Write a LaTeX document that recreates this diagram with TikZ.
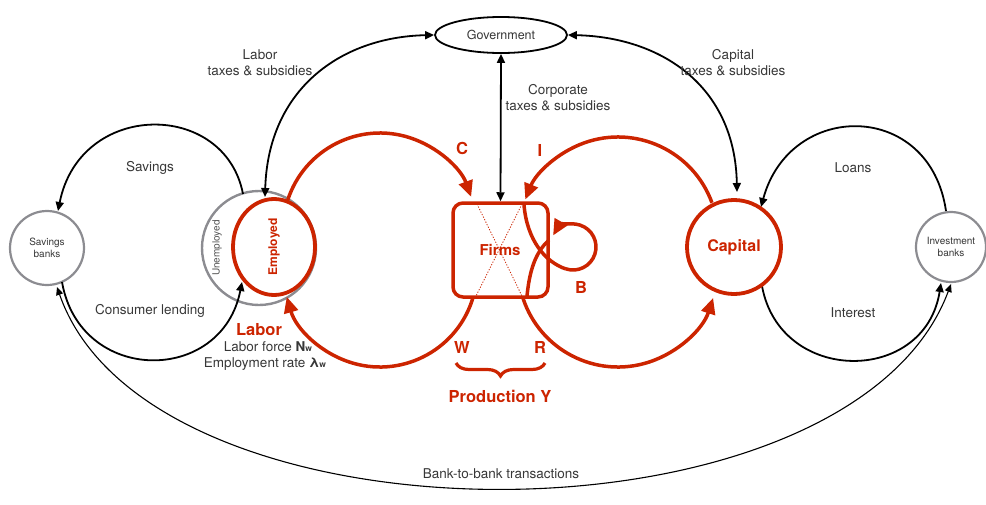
\documentclass[tikz,border=0pt]{standalone}
\usepackage{fontspec}
\setmainfont{TeX Gyre Heros}
\usetikzlibrary{arrows.meta,decorations.pathreplacing,shapes.geometric}
\definecolor{myred}{RGB}{204,36,0}
\definecolor{mygray}{RGB}{140,140,145}
\definecolor{txt}{RGB}{55,55,55}
\begin{document}
\begin{tikzpicture}[x=1pt,y=-1pt,
  lbl/.style={text=txt,font=\fontsize{13.5}{16}\selectfont,align=center,inner sep=0pt},
  rlbl/.style={text=myred,font=\fontsize{16.5}{18}\selectfont\bfseries,inner sep=0pt},
  blk/.style={line width=1.8pt,black},
  blkarr/.style={-{Triangle[length=9pt,width=8pt]}},
  dblarr/.style={{Triangle[length=9pt,width=8pt]}-{Triangle[length=9pt,width=8pt]}},
  redln/.style={line width=3.5pt,myred},
  redarr/.style={-{Triangle[length=16pt,width=14pt]}},
  bank/.style={draw=mygray,line width=2.2pt,circle,fill=white,font=\fontsize{10}{11.5}\selectfont,align=center,text=txt},
]
\useasboundingbox (0,0) rectangle (986,504);

% ---------- grey unemployed circle
\draw[mygray,line width=2.4pt] (259,248) circle[radius=57];

% ---------- banks
\node[bank,minimum size=74pt] (sb) at (47,248) {Savings\\banks};
\node[bank,minimum size=70pt] (ib) at (951,247) {Investment\\banks};

% ---------- government
\node[draw=black,line width=1.8pt,ellipse,minimum width=132pt,minimum height=36pt,
      font=\fontsize{12.5}{14}\selectfont,text=txt,fill=white] (gov) at (501,35) {Government};

% ---------- black flows
\coordinate (savS) at (243,194);
\coordinate (savE) at (58,211);
\draw[blk,blkarr] (savS) .. controls (225,100) and (80,100) .. (savE);
\node[lbl] (savL) at (150,168) {Savings};

\coordinate (clS) at (62,282);
\coordinate (clE) at (242,282);
\draw[blk,blkarr] (clS) .. controls (80,385) and (222,385) .. (clE);
\node[lbl] (clL) at (150,311) {Consumer lending};

\coordinate (loS) at (946,211);
\coordinate (loE) at (761,207);
\draw[blk,blkarr] (loS) .. controls (930,100) and (790,100) .. (loE);
\node[lbl] (loL) at (853,168) {Loans};

\coordinate (inS) at (762,286);
\coordinate (inE) at (941,283);
\draw[blk,blkarr] (inS) .. controls (780,385) and (925,385) .. (inE);
\node[lbl] (inL) at (853,313) {Interest};

\coordinate (ltE) at (265,197);
\draw[blk,dblarr] (ltE) .. controls (268,90) and (340,37) .. (gov.west);
\node[lbl] (ltL) at (260,63) {Labor\\taxes \& subsidies};

\coordinate (ctE) at (737,192);
\draw[blk,dblarr] (gov.east) .. controls (660,37) and (735,85) .. (ctE);
\node[lbl] (ctL) at (733,63) {Capital\\taxes \& subsidies};

\node[lbl] (coL) at (558,98) {Corporate\\taxes \& subsidies};

\coordinate (bbS) at (57,287);
\coordinate (bbE) at (951,284);
\draw[black,line width=1.1pt,{Triangle[length=8pt,width=7pt]}-{Triangle[length=8pt,width=7pt]}]
  (bbS) .. controls (150,555) and (850,555) .. (bbE);
\node[lbl] (bbL) at (501,474) {Bank-to-bank transactions};

% ---------- red big arcs
\draw[redln,redarr] (380,230) ++(198:97) arc[start angle=198,end angle=340,radius=97];
\draw[redln,redarr] (380,270) ++(16:97) arc[start angle=16,end angle=164,radius=97];
\draw[redln,redarr] (618,237) ++(340:100) arc[start angle=340,end angle=202,radius=100];
\draw[redln,redarr] (618,267) ++(162:100) arc[start angle=162,end angle=18,radius=100];

% ---------- employed
\node[draw=myred,fill=white,line width=3.8pt,ellipse,minimum width=82pt,minimum height=96pt] (emp) at (274,247) {};
\node[rotate=90,text=myred,font=\bfseries\fontsize{12}{14}\selectfont] (empL) at (274,247) {Employed};
\node[rotate=90,text=txt!85,font=\fontsize{10}{11}\selectfont] (unL) at (217,248) {Unemployed};

% ---------- firms
\node[draw=myred,fill=white,line width=3.5pt,rounded corners=10pt,minimum width=95pt,minimum height=94pt] (firms) at (500.5,250) {};
\draw[myred,line width=0.8pt,dash pattern=on 1.2pt off 1.6pt] (477,204) -- (522,296);
\draw[myred,line width=0.8pt,dash pattern=on 1.2pt off 1.6pt] (522,204) -- (476,296);
\node[rlbl,font=\fontsize{15}{17}\selectfont\bfseries] (firmsL) at (500,250) {Firms};
\draw[blk,dblarr] (gov.south) -- (firms.north);

% inner crossing curves and loop B
\draw[redln] (524,205) .. controls (527,240) and (545,262) .. (566,269);
\draw[redln] (527,296) .. controls (530,265) and (538,250) .. (549,240);
\draw[redln,redarr] (573,247) ++(108:23) arc[start angle=108,end angle=-150,radius=23];

% ---------- capital
\node[draw=myred,fill=white,line width=3.8pt,circle,minimum size=94pt,text=myred,
      font=\bfseries\fontsize{16}{18}\selectfont] (cap) at (734,247) {Capital};

% ---------- red labels
\node[rlbl] (C) at (462,148) {C};
\node[rlbl] (I) at (540,150) {I};
\node[rlbl] (B) at (581,287) {B};
\node[rlbl] (W) at (462,347) {W};
\node[rlbl] (R) at (540,347) {R};
\draw[myred,line width=3.2pt,decorate,decoration={brace,mirror,amplitude=13pt}] (456,363) -- (545,363);
\node[rlbl] (prod) at (500,396) {Production Y};

\node[rlbl] (labor) at (259,330) {Labor};
\node[lbl] (lf) at (268,347) {Labor force \textbf{N}{\fontsize{8.5}{9}\selectfont\textbf{w}}};
\node[lbl] (er) at (265,364) {Employment rate \textbf{λ}{\fontsize{8.5}{9}\selectfont\textbf{w}}};
\end{tikzpicture}
\end{document}
